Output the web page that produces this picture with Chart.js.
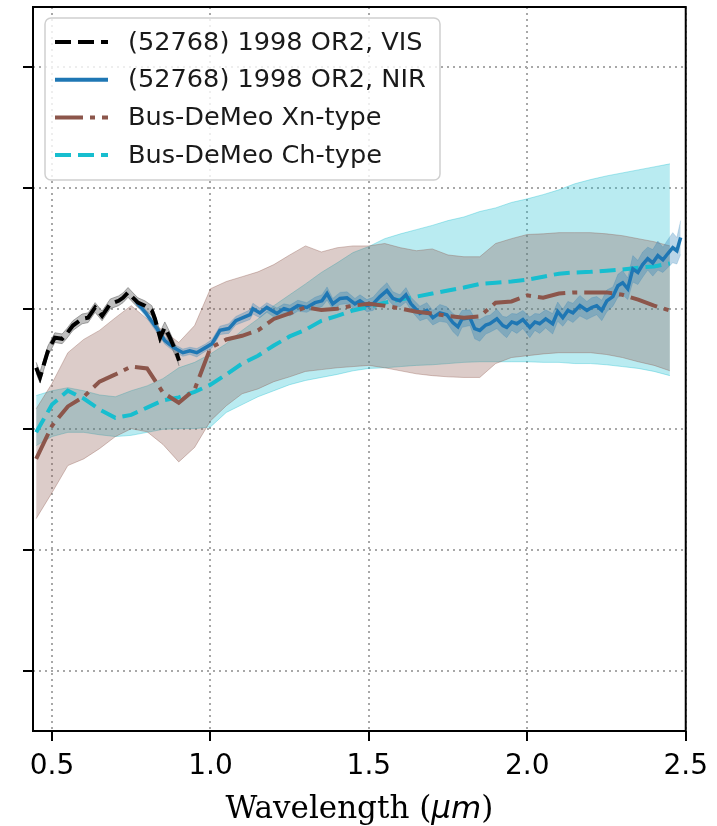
<!DOCTYPE html>
<html>
<head>
<meta charset="utf-8">
<script src="https://cdn.jsdelivr.net/npm/chart.js@4.4.1/dist/chart.umd.min.js"></script>
<style>
  html, body { margin: 0; padding: 0; background: #fff; }
  canvas { display: block; }
</style>
</head>
<body>
<canvas id="spectrum" width="717" height="826"></canvas>
<script>
// Bus-DeMeo template grid (um) and class means / 1-sigma envelopes
const bdWave = [0.45,0.50,0.55,0.60,0.65,0.70,0.75,0.80,0.85,0.90,0.95,1.00,1.05,1.10,1.15,1.20,1.25,1.30,1.35,1.40,1.45,1.50,1.55,1.60,1.65,1.70,1.75,1.80,1.85,1.90,1.95,2.00,2.05,2.10,2.15,2.20,2.25,2.30,2.35,2.40,2.45];
const xnMean  = [0.751,0.806,0.838,0.854,0.879,0.891,0.904,0.901,0.861,0.844,0.866,0.935,0.949,0.955,0.964,0.983,0.992,1.002,0.998,1.000,1.005,1.008,1.005,1.000,0.995,0.992,0.988,0.985,0.987,1.010,1.012,1.022,1.018,1.025,1.027,1.027,1.027,1.023,1.015,1.005,0.997];
const xnUpper = [0.834,0.876,0.927,0.949,0.964,0.985,1.005,0.983,0.964,0.944,0.972,1.033,1.045,1.053,1.061,1.073,1.089,1.104,1.094,1.101,1.104,1.104,1.108,1.101,1.096,1.099,1.089,1.086,1.086,1.108,1.116,1.123,1.124,1.126,1.126,1.126,1.124,1.121,1.116,1.111,1.104];
const xnLower = [0.652,0.695,0.740,0.751,0.768,0.788,0.801,0.796,0.775,0.746,0.770,0.814,0.839,0.859,0.867,0.879,0.887,0.896,0.899,0.902,0.904,0.906,0.902,0.897,0.892,0.889,0.887,0.886,0.886,0.909,0.919,0.922,0.925,0.927,0.927,0.927,0.924,0.919,0.912,0.906,0.897];
const chMean  = [0.795,0.841,0.864,0.851,0.833,0.819,0.824,0.836,0.848,0.853,0.862,0.874,0.891,0.909,0.922,0.939,0.954,0.965,0.980,0.988,0.997,1.003,1.010,1.015,1.020,1.025,1.030,1.035,1.041,1.043,1.045,1.048,1.053,1.058,1.060,1.061,1.063,1.065,1.068,1.070,1.075];
const chUpper = [0.856,0.864,0.869,0.864,0.857,0.854,0.864,0.872,0.884,0.902,0.911,0.925,0.942,0.964,0.983,1.005,1.023,1.041,1.060,1.076,1.093,1.103,1.116,1.124,1.131,1.138,1.146,1.152,1.161,1.167,1.176,1.182,1.189,1.197,1.207,1.214,1.220,1.225,1.230,1.235,1.240];
const chLower = [0.773,0.788,0.795,0.795,0.791,0.788,0.790,0.795,0.800,0.801,0.801,0.804,0.828,0.841,0.854,0.864,0.874,0.881,0.886,0.891,0.897,0.901,0.902,0.904,0.906,0.907,0.909,0.911,0.912,0.912,0.912,0.912,0.911,0.911,0.909,0.909,0.907,0.904,0.901,0.896,0.889];

// (52768) 1998 OR2 visible spectrum
const visWave = [0.450,0.462,0.487,0.509,0.532,0.547,0.566,0.595,0.614,0.636,0.658,0.684,0.710,0.724,0.740,0.756,0.771,0.793,0.815,0.825,0.841,0.856,0.872,0.894,0.901];
const visRefl = [0.902,0.886,0.930,0.952,0.950,0.959,0.972,0.983,0.985,1.002,0.988,1.008,1.013,1.018,1.027,1.018,1.010,1.005,0.997,0.983,0.952,0.969,0.952,0.925,0.914];
const visErr  = [0.009,0.009,0.008,0.008,0.008,0.008,0.008,0.008,0.008,0.008,0.008,0.008,0.008,0.008,0.008,0.008,0.008,0.008,0.008,0.008,0.009,0.009,0.009,0.009,0.009];

// (52768) 1998 OR2 near-infrared spectrum
const nirWave = [0.765,0.797,0.831,0.856,0.885,0.913,0.935,0.957,0.983,1.005,
  1.030,1.058,1.080,1.125,1.134,1.156,1.178,1.210,1.232,1.251,
  1.276,1.304,1.330,1.352,1.368,1.386,1.409,1.431,1.456,1.472,
  1.494,1.513,1.535,1.557,1.576,1.598,1.617,1.633,1.661,1.683,
  1.702,1.724,1.746,1.765,1.781,1.794,1.819,1.834,1.850,1.869,
  1.882,1.904,1.923,1.935,1.951,1.967,1.986,2.008,2.024,2.039,
  2.058,2.080,2.096,2.112,2.128,2.144,2.166,2.188,2.203,2.219,
  2.235,2.251,2.270,2.286,2.301,2.317,2.333,2.349,2.364,2.380,
  2.396,2.412,2.428,2.443,2.459,2.472,2.484];
const nirRefl = [1.012,0.992,0.967,0.947,0.935,0.927,0.930,0.927,0.935,0.942,
  0.964,0.967,0.980,0.990,1.000,0.993,1.002,0.992,1.000,0.997,
  1.005,1.002,1.010,1.013,1.025,1.008,1.017,1.018,1.008,1.013,
  1.005,1.008,1.020,1.030,1.017,1.013,1.023,1.008,0.992,0.997,
  0.985,0.993,0.990,0.977,0.970,0.983,0.985,0.967,0.964,0.973,
  0.975,0.983,0.972,0.969,0.978,0.975,0.982,0.969,0.978,0.975,
  0.983,0.975,0.995,0.985,0.997,0.993,1.005,0.997,1.002,1.005,
  0.997,1.013,1.020,1.038,1.043,1.033,1.066,1.060,1.073,1.083,
  1.076,1.088,1.081,1.091,1.101,1.096,1.118];
const nirErr = [0.006,0.006,0.007,0.006,0.006,0.006,0.006,0.007,0.006,0.007,
  0.007,0.008,0.007,0.008,0.009,0.008,0.008,0.009,0.008,0.009,
  0.009,0.008,0.009,0.010,0.011,0.009,0.010,0.010,0.009,0.010,
  0.010,0.011,0.012,0.013,0.011,0.010,0.012,0.011,0.012,0.013,
  0.012,0.014,0.013,0.015,0.016,0.014,0.013,0.017,0.018,0.015,
  0.014,0.016,0.015,0.017,0.014,0.016,0.015,0.017,0.014,0.016,
  0.015,0.017,0.016,0.014,0.015,0.016,0.017,0.015,0.016,0.015,
  0.017,0.018,0.016,0.019,0.020,0.018,0.022,0.020,0.021,0.019,
  0.022,0.024,0.021,0.023,0.025,0.022,0.028];

const xTicks = [0.5, 1.0, 1.5, 2.0, 2.5];
const yTicks = [0.4, 0.6, 0.8, 1.0, 1.2, 1.4];
const legendLabels = ['(52768) 1998 OR2, VIS', '(52768) 1998 OR2, NIR', 'Bus-DeMeo Xn-type', 'Bus-DeMeo Ch-type'];

const BLUE = '#1f77b4', BROWN = '#8c564b', CYAN = '#17becf';
const DASHED = [16, 7];
const DASHDOT = [28, 7, 5, 7];

const pts = (xs, ys) => xs.map((x, i) => ({ x: x, y: ys[i] }));
const shift = (ys, errs, sign) => ys.map((y, i) => y + sign * errs[i]);

function edge(data, color, order) {
  return { data: data, borderColor: color, borderWidth: 1, pointRadius: 0, fill: false, order: order };
}
function edgeFill(data, color, bg, order) {
  return { data: data, borderColor: color, borderWidth: 1, pointRadius: 0, fill: '-1', backgroundColor: bg, order: order };
}

// frame, custom legend and mixed-font axis title
const decorations = {
  id: 'decorations',
  afterDraw(chart) {
    const ctx = chart.ctx;
    const a = chart.chartArea;
    ctx.save();
    ctx.strokeStyle = '#000';
    ctx.lineWidth = 2;
    ctx.setLineDash([]);
    ctx.strokeRect(a.left, a.top, a.right - a.left, a.bottom - a.top);

    // legend
    const bx = 45, by = 18, bw = 395, bh = 162;
    ctx.beginPath();
    ctx.roundRect(bx, by, bw, bh, 6);
    ctx.fillStyle = 'rgba(255,255,255,0.8)';
    ctx.fill();
    ctx.strokeStyle = '#d0d0d0';
    ctx.lineWidth = 1.5;
    ctx.stroke();

    const styles = [
      { color: '#000', dash: DASHED },
      { color: BLUE, dash: [] },
      { color: BROWN, dash: DASHDOT },
      { color: CYAN, dash: DASHED }
    ];
    ctx.font = '25.6px "DejaVu Sans"';
    ctx.textBaseline = 'middle';
    legendLabels.forEach((label, i) => {
      const y = 42 + i * 37.7;
      ctx.beginPath();
      ctx.setLineDash(styles[i].dash);
      ctx.strokeStyle = styles[i].color;
      ctx.lineWidth = 4;
      ctx.moveTo(55, y);
      ctx.lineTo(108, y);
      ctx.stroke();
      ctx.fillStyle = '#1a1a1a';
      ctx.fillText(label, 128, y + 1);
    });

    // x-axis title: "Wavelength (" serif, "μm" italic sans, ")"
    const parts = [
      { t: 'Wavelength (', f: '31px "DejaVu Serif"' },
      { t: 'μm', f: 'italic 31px "DejaVu Sans"' },
      { t: ')', f: '31px "DejaVu Serif"' }
    ];
    let total = 0;
    parts.forEach(p => { ctx.font = p.f; p.w = ctx.measureText(p.t).width; total += p.w; });
    let x = (a.left + a.right) / 2 - total / 2;
    ctx.textBaseline = 'alphabetic';
    ctx.fillStyle = '#000';
    parts.forEach(p => { ctx.font = p.f; ctx.fillText(p.t, x, 818); x += p.w; });
    ctx.restore();
  }
};

new Chart(document.getElementById('spectrum'), {
  type: 'line',
  data: {
    datasets: [
      // lines on top (low order drawn last)
      { data: pts(visWave, visRefl), borderColor: '#000', borderWidth: 4, borderDash: DASHED, pointRadius: 0, fill: false, order: 1 },
      { data: pts(bdWave, xnMean), borderColor: BROWN, borderWidth: 4, borderDash: DASHDOT, pointRadius: 0, fill: false, order: 2 },
      { data: pts(nirWave, nirRefl), borderColor: BLUE, borderWidth: 3.5, pointRadius: 0, fill: false, order: 3 },
      { data: pts(bdWave, chMean), borderColor: CYAN, borderWidth: 4, borderDash: DASHED, pointRadius: 0, fill: false, order: 4 },
      // error envelopes
      edge(pts(visWave, shift(visRefl, visErr, 1)), 'rgba(110,110,110,0.6)', 5),
      edgeFill(pts(visWave, shift(visRefl, visErr, -1)), 'rgba(110,110,110,0.6)', 'rgba(128,128,128,0.5)', 5),
      edge(pts(nirWave, shift(nirRefl, nirErr, 1)), 'rgba(31,119,180,0.2)', 6),
      edgeFill(pts(nirWave, shift(nirRefl, nirErr, -1)), 'rgba(31,119,180,0.2)', 'rgba(31,119,180,0.3)', 6),
      edge(pts(bdWave, xnUpper), 'rgba(140,86,75,0.35)', 7),
      edgeFill(pts(bdWave, xnLower), 'rgba(140,86,75,0.35)', 'rgba(140,86,75,0.3)', 7),
      edge(pts(bdWave, chUpper), 'rgba(23,190,207,0.35)', 8),
      edgeFill(pts(bdWave, chLower), 'rgba(23,190,207,0.35)', 'rgba(23,190,207,0.3)', 8)
    ]
  },
  options: {
    responsive: false,
    animation: false,
    devicePixelRatio: 1,
    layout: { padding: { left: 0, right: 31, top: 7, bottom: 0 } },
    plugins: { legend: { display: false }, tooltip: { enabled: false } },
    elements: { line: { tension: 0 } },
    scales: {
      x: {
        type: 'linear',
        min: 0.44,
        max: 2.5,
        afterBuildTicks: s => { s.ticks = xTicks.map(v => ({ value: v })); },
        afterFit: s => { s.height = 95; },
        grid: { color: '#a8a8a8', lineWidth: 2, tickLength: 10, tickColor: '#000', tickWidth: 2 },
        border: { display: false, dash: [2, 4] },
        ticks: {
          color: '#000',
          font: { family: 'DejaVu Sans', size: 28 },
          padding: 9,
          maxRotation: 0,
          callback: v => v.toFixed(1)
        }
      },
      y: {
        type: 'linear',
        min: 0.3,
        max: 1.5,
        afterBuildTicks: s => { s.ticks = yTicks.map(v => ({ value: v })); },
        afterFit: s => { s.width = 33; },
        grid: { color: '#a8a8a8', lineWidth: 2, tickLength: 10, tickColor: '#000', tickWidth: 2 },
        border: { display: false, dash: [2, 4] },
        ticks: { display: false }
      }
    }
  },
  plugins: [decorations]
});
</script>
</body>
</html>
